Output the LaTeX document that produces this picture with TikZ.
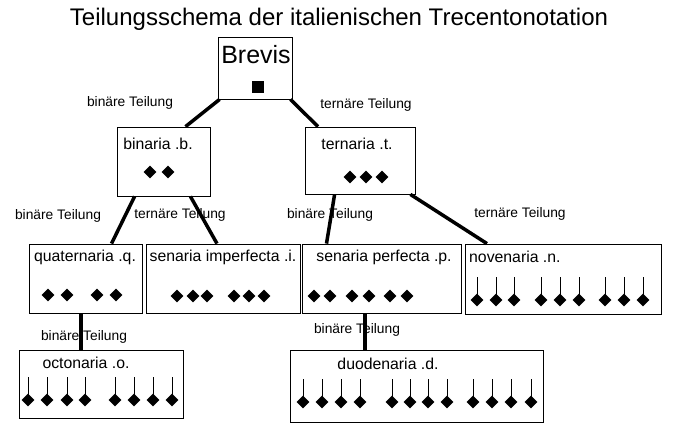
\documentclass[tikz,border=0pt]{standalone}
\usepackage{fontspec}
\setmainfont{Liberation Sans}
\begin{document}
\begin{tikzpicture}[x=1pt,y=-1pt,
  box/.style={draw,line width=0.8pt,rectangle,inner sep=0pt},
  conn/.style={line width=3.5pt},
  lbl/.style={font=\fontsize{13.8}{14}\selectfont,inner sep=0pt},
  tt/.style={font=\fontsize{15.8}{16}\selectfont,inner sep=0pt}]
\newcommand{\dmd}[2]{\fill (#1,#2-6.3) -- (#1+6.3,#2) -- (#1,#2+6.3) -- (#1-6.3,#2) -- cycle;}
\newcommand{\nte}[2]{\dmd{#1}{#2}\draw[line width=0.8pt] (#1,#2-4) -- (#1,#2-23);}
\useasboundingbox (0,0) rectangle (693,423);
\node[font=\fontsize{24}{24}\selectfont] (title) at (339,19) {Teilungsschema der italienischen Trecentonotation};
% boxes
\node[box,minimum width=74,minimum height=62] (brev) at (255,68) {};
\node[box,minimum width=93,minimum height=69] (bin) at (163.5,161.5) {};
\node[box,minimum width=110,minimum height=67] (ter) at (360,160.5) {};
\node[box,minimum width=113,minimum height=69] (qua) at (85.5,278.5) {};
\node[box,minimum width=154,minimum height=69] (sim) at (223,278.5) {};
\node[box,minimum width=159,minimum height=69] (spf) at (381.5,278.5) {};
\node[box,minimum width=196,minimum height=70] (nov) at (563,279) {};
\node[box,minimum width=164,minimum height=68] (oct) at (101,384) {};
\node[box,minimum width=253,minimum height=72] (duo) at (416.5,386) {};
% texts
\node[font=\fontsize{25}{25}\selectfont] (tb) at (256,55) {Brevis};
\fill (252,81) rectangle (264,93);
\node[tt] (t1) at (158,144) {binaria .b.};
\node[tt] (t2) at (357,144) {ternaria .t.};
\node[tt] (t3) at (85,257) {quaternaria .q.};
\node[tt] (t4) at (223,257) {senaria imperfecta .i.};
\node[tt] (t5) at (384,257) {senaria perfecta .p.};
\node[tt,anchor=west] (t6) at (469,257) {novenaria .n.};
\node[tt] (t7) at (86,363) {octonaria .o.};
\node[tt] (t8) at (388,364) {duodenaria .d.};
% connectors
\draw[conn] ([xshift=2]brev.south west) -- ([xshift=22]bin.north);
\draw[conn] ([xshift=-2]brev.south east) -- ([xshift=-42]ter.north);
\draw[conn] ([xshift=18]bin.south west) -- ([xshift=26]qua.north);
\draw[conn] ([xshift=-20]bin.south east) -- ([xshift=-6]sim.north);
\draw[conn] ([xshift=30]ter.south west) -- ([xshift=-55]spf.north);
\draw[conn] ([xshift=-5]ter.south east) -- ([xshift=-76]nov.north);
\draw[conn] ([xshift=-4.5]qua.south) -- ([xshift=-20]oct.north);
\draw[conn] ([xshift=-16.5]spf.south) -- ([xshift=-51.5]duo.north);
% labels
\node[lbl] (l1) at (130,103) {binäre Teilung};
\node[lbl] (l2) at (366,105) {ternäre Teilung};
\node[lbl] (l3) at (58,216) {binäre Teilung};
\node[lbl] (l4) at (180,215) {ternäre Teilung};
\node[lbl] (l5) at (330,215) {binäre Teilung};
\node[lbl] (l6) at (520,214) {ternäre Teilung};
\node[lbl] (l7) at (84,337) {binäre Teilung};
\node[lbl] (l8) at (357,330) {binäre Teilung};
% notes
\foreach \x in {150,168} {\dmd{\x}{172}}
\foreach \x in {350,366,382} {\dmd{\x}{177}}
\foreach \x in {48,67,97,116} {\dmd{\x}{295}}
\foreach \x in {177,193,207,234,249,264} {\dmd{\x}{296}}
\foreach \x in {314,330,352,369,390,407} {\dmd{\x}{296}}
\foreach \x in {477,496,514,541,560,579,605,624,643} {\nte{\x}{300}}
\foreach \x in {28,47,67,85,115,134,153,172} {\nte{\x}{400}}
\foreach \x in {303,322,341,360,392,410,428,447,473,492,511,531} {\nte{\x}{402}}
\end{tikzpicture}
\end{document}
